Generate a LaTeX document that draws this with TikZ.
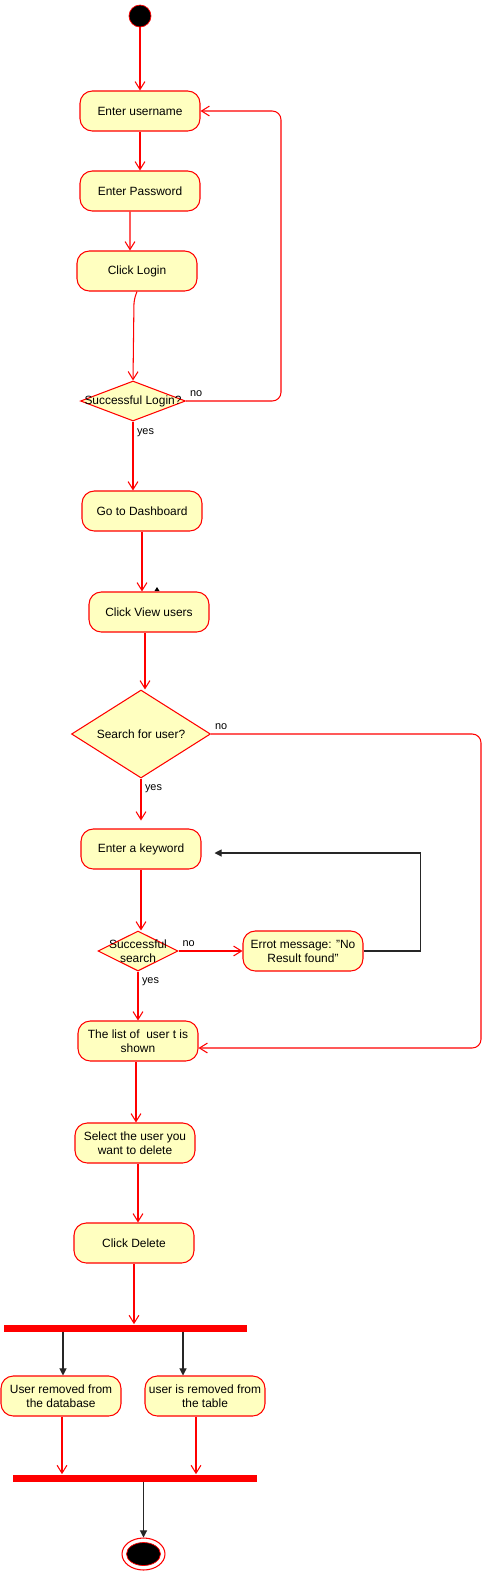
\documentclass[tikz,border=0pt]{standalone}
\usepackage{fontspec}
\setmainfont{Liberation Sans}
\usetikzlibrary{arrows.meta,shapes.geometric}
\definecolor{actfill}{HTML}{FFFFC0}
\definecolor{actline}{HTML}{FF0000}

\begin{document}
\begin{tikzpicture}[x=0.02cm, y=-0.02cm,
  every node/.style={font=\fontsize{6.8}{8}\selectfont, align=center},
  activity/.style={draw=actline, fill=actfill, line width=0.6pt, rounded corners=7pt,
    minimum width=2.4cm, minimum height=0.8cm, inner sep=1pt},
  decision/.style={diamond, draw=actline, fill=actfill, line width=0.6pt, inner sep=0pt},
  bar/.style={fill=actline, inner sep=0pt, minimum height=0.14cm},
  lbl/.style={font=\fontsize{6.2}{7}\selectfont, inner sep=2pt},
  flow/.style={draw=actline, line width=0.6pt, -{Straight Barb[length=4.5pt,width=5.6pt]}},
  bflow/.style={draw=black!85, line width=0.6pt, -{Triangle[length=4pt,width=4pt]}}]
\useasboundingbox (0,0) rectangle (492,1573);

\node (start) at (140,16) [circle, draw=actline, fill=black, minimum size=0.44cm, inner sep=0pt] {};
\node (user) at (140,111) [activity] {Enter username};
\node (pass) at (140,191) [activity] {Enter Password};
\node (login) at (137,271) [activity] {Click Login};
\node (d1) at (133,401) [decision, minimum width=2.1cm, minimum height=0.8cm, label={center:Successful Login?}] {};
\node (dash) at (142,511) [activity] {Go to Dashboard};
\node (view) at (149,612) [activity] {Click View users};
\node (d2) at (141,734) [decision, minimum width=2.78cm, minimum height=1.76cm, label={center:Search for user?}] {};
\node (key) at (141,849) [activity] {Enter a keyword};
\node (d3) at (138,951) [decision, minimum width=1.6cm, minimum height=0.8cm, label={[align=center]center:Successful\\search}] {};
\node (err) at (303,951) [activity] {Errot message: "No\\Result found"};
\node (list) at (138,1041) [activity] {The list of\ \ user t is\\shown};
\node (sel) at (135,1143) [activity] {Select the user you\\want to delete};
\node (del) at (134,1243) [activity] {Click Delete};
\node (fork) at (125.5,1328) [bar, minimum width=4.86cm] {};
\node (db) at (61,1396) [activity] {User removed from\\the database};
\node (tbl) at (205,1396) [activity] {user is removed from\\the table};
\node (join) at (135,1478) [bar, minimum width=4.88cm] {};
\node (end) at (143.5,1554) [ellipse, draw=actline, fill=white, line width=0.6pt, minimum width=0.86cm, minimum height=0.64cm] {};
\node (endin) at (end) [ellipse, draw=actline, fill=black, line width=0.4pt, minimum width=0.68cm, minimum height=0.46cm] {};

\draw [flow] (start) -- (user);
\draw [flow] (user) -- (pass);
\draw [flow] ([xshift=-0.2cm]pass.south) -- ([xshift=-0.14cm]login.north);
\draw [flow, rounded corners=3pt] (login.south) -- ++(-3,8) -- (d1.north);
\draw [flow, rounded corners=5pt] (d1.east) node[lbl, above right] {no} -- ++(95,0) |- (user.east);
\draw [flow] (d1.south) node[lbl, below right, yshift=-0.06cm] {yes} -- (d1.south |- dash.north);
\draw [flow] (dash.south) -- (dash.south |- view.north);
\fill (154.5,591) -- (157,587) -- (159.5,591) -- cycle;
\draw [flow] ([xshift=-0.08cm]view.south) -- ([xshift=-0.08cm]view.south |- d2.north);
\draw [flow, rounded corners=5pt] (d2.east) node[lbl, above right] {no} -- ++(270,0) |- ([yshift=-0.14cm]list.east);
\draw [flow] (d2.south) node[lbl, below right, yshift=-0.04cm] {yes} -- ++(0,42);
\draw [flow] (key.south) -- (key.south |- d3.north);
\draw [flow] (d3.east) node[lbl, above right] {no} -- (err.west);
\draw [bflow, shorten >=0.26cm] (err.east) -- ++(57,0) |- ([yshift=-0.08cm]key.east);
\draw [flow] (d3.south) node[lbl, below right, yshift=-0.04cm] {yes} -- (d3.south |- list.north);
\draw [flow] ([xshift=-0.04cm]list.south) -- ([xshift=-0.04cm]list.south |- sel.north);
\draw [flow] ([xshift=0.06cm]sel.south) -- ([xshift=0.06cm]sel.south |- del.north);
\draw [flow] (del.south) -- (del.south |- fork.north);
\draw [bflow] ([xshift=0.04cm]db.north |- fork.south) -- ([xshift=0.04cm]db.north);
\draw [bflow] ([xshift=-0.44cm]tbl.north |- fork.south) -- ([xshift=-0.44cm]tbl.north);
\draw [flow] ([xshift=0.02cm]db.south) -- ([xshift=0.02cm]db.south |- join.north);
\draw [flow] ([xshift=-0.18cm]tbl.south) -- ([xshift=-0.18cm]tbl.south |- join.north);
\draw [bflow] (end.north |- join.south) -- (end.north);
\end{tikzpicture}
\end{document}
